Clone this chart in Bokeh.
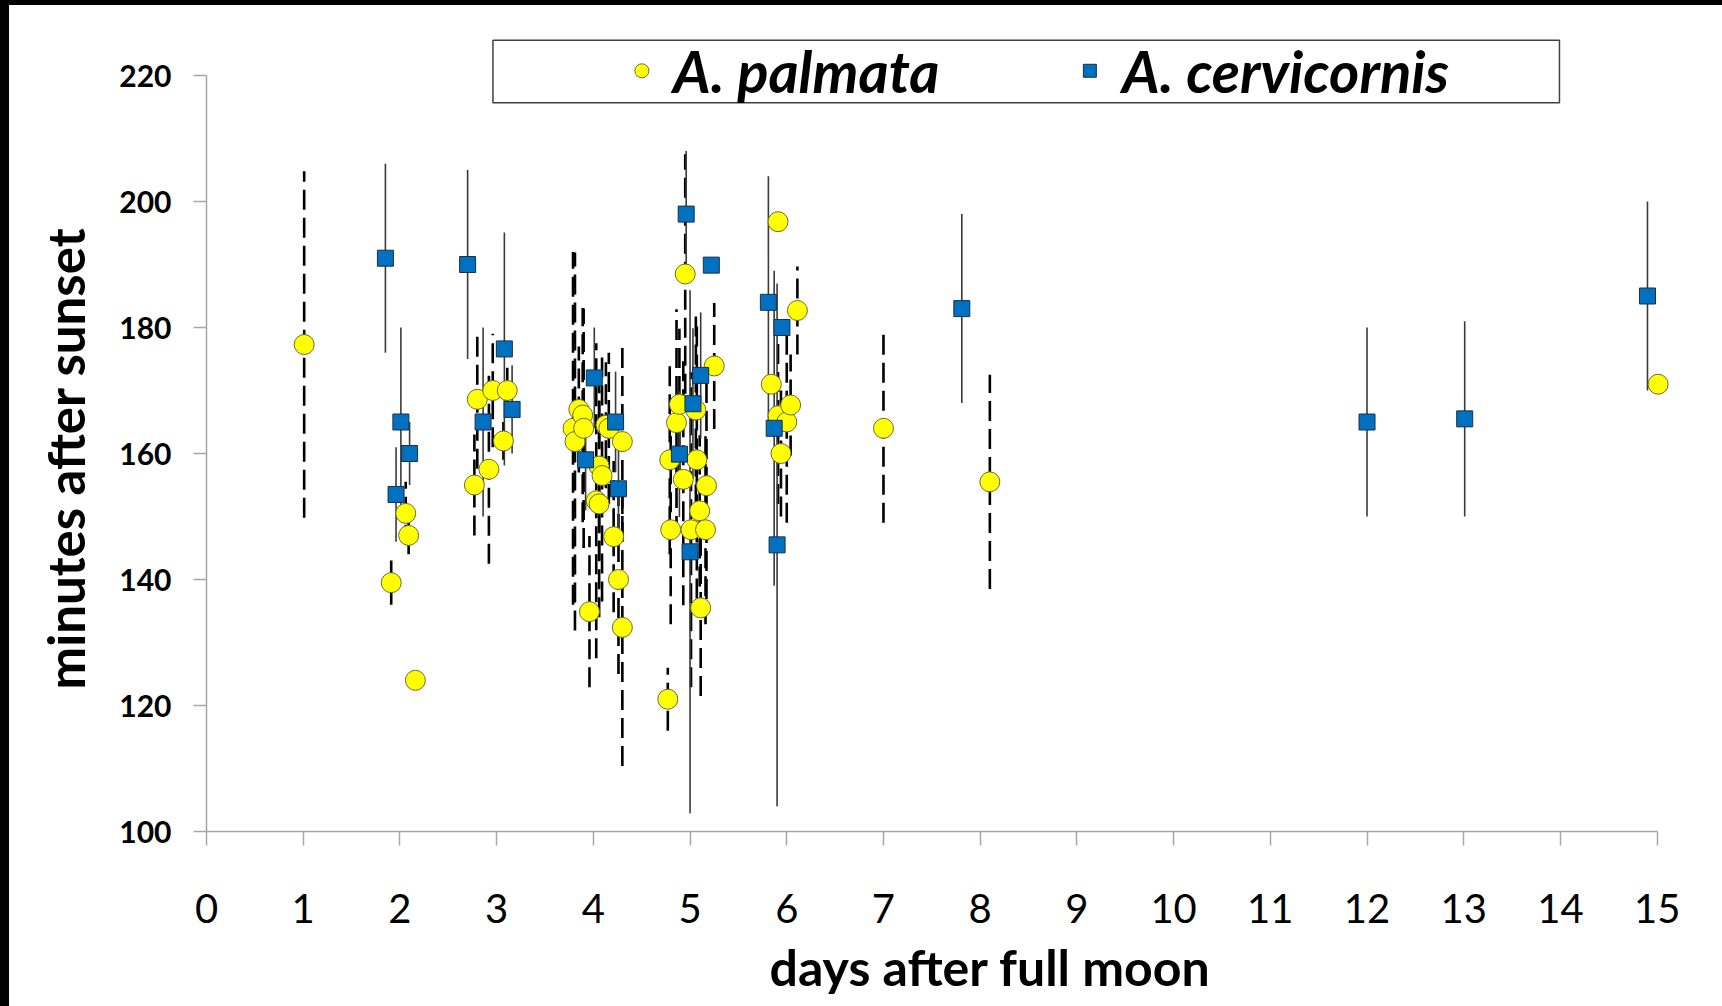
from bokeh.plotting import figure
from bokeh.models import ColumnDataSource, FixedTicker, Title, Div
from bokeh.layouts import column, row
from bokeh.core.properties import value
from bokeh.embed import file_html
from bokeh.resources import INLINE

FONT = "Lato"

# ---------------- data ----------------
x_ticks = list(range(0, 16))
y_ticks = [100, 120, 140, 160, 180, 200, 220]

x_title = "days after full moon"
y_title = "minutes after sunset"
series_names = ["A. palmata", "A. cervicornis"]

palmata_day = [1.01, 1.91, 2.06, 2.09, 2.16, 2.77, 2.80, 2.92, 2.96, 3.07, 3.11,
               3.79, 3.81, 3.85, 3.89, 3.90, 3.96, 4.03, 4.06, 4.06, 4.09, 4.13,
               4.16, 4.21, 4.26, 4.30, 4.30,
               4.77, 4.79, 4.80, 4.86, 4.89, 4.93, 4.95, 5.01, 5.06, 5.07, 5.10,
               5.11, 5.16, 5.17, 5.25,
               5.84, 5.91, 5.91, 5.94, 6.00, 6.04, 6.11,
               7.00, 8.10, 15.01]
palmata_min = [177.3, 139.5, 150.5, 147.0, 124.0, 155.0, 168.6, 157.5, 170.0, 162.0, 170.0,
               164.0, 161.9, 167.0, 166.1, 164.0, 134.9, 152.5, 152.0, 158.0, 156.5, 164.5,
               164.0, 146.8, 140.0, 161.9, 132.4,
               121.0, 159.0, 147.9, 164.9, 167.8, 155.9, 188.5, 147.9, 166.9, 159.0, 150.9,
               135.5, 147.9, 154.9, 173.9,
               171.0, 196.8, 166.0, 160.0, 165.0, 167.7, 182.7,
               164.0, 155.5, 171.0]
palmata_err = [27.5, 3.5, 5.0, 3.0, 0.0, 8.0, 11.0, 15.0, 9.0, 3.0, 4.0,
               28.0, 30.0, 10.0, 17.0, 19.0, 12.0, 25.0, 18.0, 15.0, 20.0, 10.0,
               12.0, 12.0, 15.0, 15.0, 22.0,
               5.0, 15.0, 15.0, 18.0, 12.0, 20.0, 19.0, 25.0, 15.0, 22.0, 12.0,
               14.0, 15.0, 18.0, 10.0,
               0.0, 0.0, 14.0, 10.0, 16.0, 8.0, 7.0,
               15.0, 17.0, 0.0]

cerv_day = [1.85, 1.96, 2.01, 2.10, 2.70, 2.86, 3.08, 3.16,
            3.92, 4.01, 4.23, 4.26,
            4.89, 4.96, 5.00, 5.03, 5.11, 5.22,
            5.81, 5.87, 5.90, 5.95,
            7.81, 12.00, 13.01, 14.90]
cerv_min = [191.0, 153.5, 165.0, 160.0, 190.0, 165.0, 176.6, 167.0,
            159.0, 172.0, 165.0, 154.4,
            159.9, 198.0, 144.4, 167.9, 172.4, 189.9,
            184.0, 164.0, 145.5, 180.0,
            183.0, 165.0, 165.5, 185.0]
cerv_err = [15.0, 7.5, 15.0, 5.0, 15.0, 15.0, 18.5, 7.0,
            8.0, 8.0, 8.0, 8.0,
            10.0, 10.0, 41.5, 12.0, 10.0, 0.0,
            20.0, 25.0, 41.5, 0.0,
            15.0, 15.0, 15.5, 15.0]

# ---------------- figure ----------------
W, H = 1713, 1001
p = figure(width=W, height=H, x_range=(0, 15.5), y_range=(100, 227.94),
           output_backend="svg", toolbar_location=None,
           min_border_left=197, min_border_right=17,
           min_border_top=20, min_border_bottom=175)
p.outline_line_color = None
p.xgrid.visible = False
p.ygrid.visible = False
p.background_fill_color = "white"
p.border_fill_color = "white"

AX = "#A6A6A6"
p.xaxis.ticker = FixedTicker(ticks=x_ticks)
p.xaxis.bounds = (0, 15)
p.xaxis.axis_line_color = AX
p.xaxis.axis_line_width = 1.5
p.xaxis.major_tick_line_color = AX
p.xaxis.major_tick_line_width = 1.5
p.xaxis.major_tick_out = 14
p.xaxis.major_tick_in = 0
p.xaxis.minor_tick_line_color = None
p.xaxis.major_label_text_font = FONT
p.xaxis.major_label_text_font_size = "40px"
p.xaxis.major_label_text_color = "black"
p.xaxis.major_label_standoff = 48

p.yaxis.ticker = FixedTicker(ticks=y_ticks)
p.yaxis.bounds = (100, 220)
p.yaxis.axis_line_color = AX
p.yaxis.axis_line_width = 1.5
p.yaxis.major_tick_line_color = AX
p.yaxis.major_tick_line_width = 1.5
p.yaxis.major_tick_out = 13
p.yaxis.major_tick_in = 0
p.yaxis.minor_tick_line_color = None
p.yaxis.major_label_text_font = FONT
p.yaxis.major_label_text_font_size = "30px"
p.yaxis.major_label_text_font_style = "bold"
p.yaxis.major_label_text_color = "black"
p.yaxis.major_label_standoff = 22

# ---------------- error bars ----------------
pal_src = ColumnDataSource(dict(
    x=palmata_day, y=palmata_min,
    lo=[m - e for m, e in zip(palmata_min, palmata_err)],
    hi=[m + e for m, e in zip(palmata_min, palmata_err)]))
cer_src = ColumnDataSource(dict(
    x=cerv_day, y=cerv_min,
    lo=[m - e for m, e in zip(cerv_min, cerv_err)],
    hi=[m + e for m, e in zip(cerv_min, cerv_err)]))

p.segment(x0="x", y0="lo", x1="x", y1="hi", source=pal_src,
          line_color="black", line_width=2.6, line_dash="20 8")
p.segment(x0="x", y0="lo", x1="x", y1="hi", source=cer_src,
          line_color="#3a3a3a", line_width=1.6)

# ---------------- markers ----------------
p.scatter("x", "y", source=pal_src, marker="circle", size=20,
          fill_color="#FFFF00", line_color="#6b6b3a", line_width=1)
p.scatter("x", "y", source=cer_src, marker="square", size=16,
          fill_color="#0070C0", line_color="#1d2f45", line_width=1)

# ---------------- legend (drawn manually) ----------------
LEG_L, LEG_R, LEG_B, LEG_T = 2.962, 13.99, 215.67, 225.6
LEG_Y = 220.75
p.quad(left=[LEG_L], right=[LEG_R], bottom=[LEG_B], top=[LEG_T],
       fill_color="white", line_color="#404040", line_width=1.5)
p.scatter(x=[4.502], y=[LEG_Y], marker="circle", size=14,
          fill_color="#FFFF00", line_color="#6b6b3a", line_width=1)
p.scatter(x=[9.134], y=[LEG_Y], marker="square", size=13,
          fill_color="#0070C0", line_color="#1d2f45", line_width=1)
p.text(x=[4.823, 9.466], y=[LEG_Y, LEG_Y], text=series_names,
       text_font=value(FONT), text_font_style="bold italic",
       text_font_size="58px", text_color="black",
       text_align="left", text_baseline="middle")

# ---------------- axis titles ----------------
p.add_layout(Title(text=x_title, align="left", offset=563, standoff=18,
                   text_font=FONT, text_font_style="bold",
                   text_font_size="50px", text_color="black"), "below")
p.add_layout(Title(text=y_title, align="left", offset=142, standoff=41,
                   text_font=FONT, text_font_style="bold",
                   text_font_size="51px", text_color="black"), "left")

top_bar = Div(text="", width=1722, height=5, margin=0,
              styles={"background-color": "black"})
left_bar = Div(text="", width=9, height=H, margin=0,
               styles={"background-color": "black"})
layout = column(top_bar, row(left_bar, p, spacing=0), spacing=0)

open("out.html", "w").write(file_html(layout, INLINE))
